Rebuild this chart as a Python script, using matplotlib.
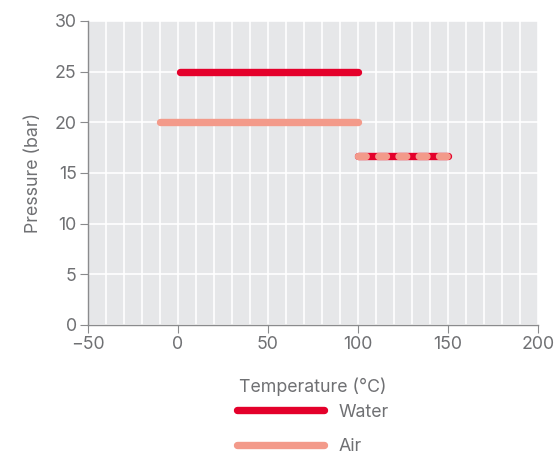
import matplotlib
matplotlib.use("Agg")
import matplotlib.pyplot as plt
from matplotlib.ticker import MultipleLocator
from matplotlib.lines import Line2D

# data
water_temp = [1, 100]
water_press = [25, 25]
air_temp = [-10, 100]
air_press = [20, 20]
shared_temp = [100, 150]
shared_press = [16.7, 16.7]
series_labels = ["Water", "Air"]

water_color = "#e4002b"
air_color = "#f39a8a"
text_color = "#6f7073"

plt.rcParams["font.family"] = ["Inter", "DejaVu Sans"]

fig = plt.figure(figsize=(5.56, 4.55), dpi=100)
ax = fig.add_axes([0.158, 0.286, 0.81, 0.668])
ax.set_facecolor("#e6e7e9")

lw = 5.3
ax.plot(water_temp, water_press, color=water_color, lw=lw, solid_capstyle="round", zorder=3)
ax.plot(air_temp, air_press, color=air_color, lw=lw, solid_capstyle="round", zorder=3)
ax.plot(shared_temp, shared_press, color=water_color, lw=lw, solid_capstyle="round", zorder=3)
ax.plot(shared_temp, shared_press, color=air_color, lw=lw, dashes=(1.05, 1.7),
        dash_capstyle="round", zorder=4)

ax.set_xlim(-50, 200)
ax.set_ylim(0, 30)
ax.xaxis.set_major_locator(MultipleLocator(50))
ax.xaxis.set_minor_locator(MultipleLocator(10))
ax.yaxis.set_major_locator(MultipleLocator(5))
ax.grid(True, which="both", axis="x", color="white", lw=1.2)
ax.grid(True, which="major", axis="y", color="white", lw=1.2)
ax.set_axisbelow(True)

for s in ["top", "right"]:
    ax.spines[s].set_visible(False)
for s in ["left", "bottom"]:
    ax.spines[s].set_color("#8a8b8d")
    ax.spines[s].set_linewidth(1)

fs = 12.8
ax.tick_params(axis="both", which="major", colors="#8a8b8d", labelcolor=text_color,
               labelsize=fs, length=6)
ax.tick_params(axis="x", which="minor", length=0)
ax.tick_params(axis="x", pad=2)
ax.tick_params(axis="y", pad=2)

ax.set_xlabel("Temperature (°C)", color=text_color, fontsize=fs, labelpad=18)
ax.set_ylabel("Pressure (bar)", color=text_color, fontsize=fs, labelpad=9)

handles = [Line2D([], [], color=water_color, lw=lw, solid_capstyle="round"),
           Line2D([], [], color=air_color, lw=lw, solid_capstyle="round")]
leg = fig.legend(handles, series_labels, loc="center", bbox_to_anchor=(0.563, 0.056),
                 frameon=False, handlelength=4.9, handletextpad=0.8, labelspacing=1.0,
                 fontsize=fs, labelcolor=text_color)

fig.savefig("out.png", dpi=100)
